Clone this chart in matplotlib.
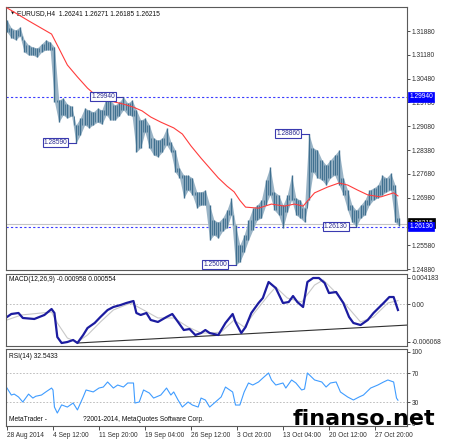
import numpy as np
import matplotlib
matplotlib.use('Agg')
import matplotlib.pyplot as plt
import matplotlib.transforms as mtransforms

# ---------------- data ----------------
symbol_title = "EURUSD,H4  1.26241 1.26271 1.26185 1.26215"
macd_title = "MACD(12,26,9) -0.000958 0.000554"
rsi_title = "RSI(14) 32.5433"
footer_left = "MetaTrader -"
footer_right = "?2001-2014, MetaQuotes Software Corp."
watermark = "finanso.net"

bar_step = 3  # one sample every 3 H4 bars
highs = [1.3220, 1.3197, 1.3191, 1.3200, 1.3162, 1.3147, 1.3141, 1.3138, 1.3150, 1.3162,
         1.3156, 1.3141, 1.2985, 1.2991, 1.2973, 1.2967, 1.2912, 1.2932, 1.2961, 1.2956,
         1.2950, 1.2961, 1.2956, 1.2991, 1.2985, 1.2970, 1.2979, 1.2994, 1.2976, 1.2985,
         1.2956, 1.2926, 1.2932, 1.2912, 1.2873, 1.2867, 1.2873, 1.2902, 1.2862, 1.2838,
         1.2785, 1.2764, 1.2764, 1.2756, 1.2715, 1.2715, 1.2720, 1.2676, 1.2632, 1.2626,
         1.2638, 1.2661, 1.2697, 1.2617, 1.2559, 1.2588, 1.2632, 1.2667, 1.2676, 1.2691,
         1.2750, 1.2788, 1.2715, 1.2706, 1.2676, 1.2706, 1.2764, 1.2697, 1.2691, 1.2667,
         1.2886, 1.2844, 1.2838, 1.2809, 1.2794, 1.2809, 1.2823, 1.2838, 1.2756, 1.2720,
         1.2676, 1.2661, 1.2676, 1.2691, 1.2720, 1.2726, 1.2735, 1.2764, 1.2756, 1.2770,
         1.2735, 1.2638]
lows = [1.3185, 1.3168, 1.3162, 1.3173, 1.3126, 1.3117, 1.3117, 1.3111, 1.3126, 1.3132,
        1.3132, 1.2980, 1.2920, 1.2941, 1.2932, 1.2938, 1.2859, 1.2882, 1.2912, 1.2903,
        1.2912, 1.2920, 1.2914, 1.2941, 1.2926, 1.2926, 1.2938, 1.2956, 1.2941, 1.2938,
        1.2832, 1.2844, 1.2891, 1.2844, 1.2823, 1.2818, 1.2832, 1.2853, 1.2832, 1.2773,
        1.2756, 1.2697, 1.2720, 1.2706, 1.2668, 1.2676, 1.2676, 1.2573, 1.2588, 1.2579,
        1.2600, 1.2609, 1.2647, 1.2500, 1.2509, 1.2538, 1.2573, 1.2603, 1.2632, 1.2638,
        1.2676, 1.2706, 1.2661, 1.2647, 1.2609, 1.2656, 1.2691, 1.2647, 1.2638, 1.2626,
        1.2691, 1.2773, 1.2756, 1.2750, 1.2735, 1.2756, 1.2764, 1.2735, 1.2706, 1.2661,
        1.2626, 1.2613, 1.2638, 1.2647, 1.2676, 1.2691, 1.2697, 1.2706, 1.2715, 1.2720,
        1.2626, 1.2614]

ma_bars = [0, 15, 31, 36, 42, 49, 56, 63, 72, 81, 88, 94, 100, 107, 116, 122, 128, 135,
           141, 147, 153, 158, 162, 166, 175, 184, 193, 200, 206, 214, 223, 231, 237, 244,
           251, 260, 269, 272]
ma_vals = [1.3256, 1.3218, 1.3179, 1.3138, 1.3088, 1.3053, 1.3020, 1.2994, 1.2982, 1.2973,
           1.2964, 1.2953, 1.2935, 1.2920, 1.2903, 1.2885, 1.2850, 1.2814, 1.2785, 1.2756,
           1.2732, 1.2715, 1.2690, 1.2670, 1.2667, 1.2679, 1.2673, 1.2679, 1.2673, 1.2712,
           1.2729, 1.2741, 1.2735, 1.2720, 1.2706, 1.2700, 1.2712, 1.2703]

price_ticks = [1.31880, 1.31180, 1.30480, 1.29780, 1.29080, 1.28380, 1.27680, 1.26980,
               1.26280, 1.25580, 1.24880]
level_lines = [1.2994, 1.2613]
level_labels = ["1.29940", "1.26130"]
last_price = 1.26215
last_price_label = "1.26215"

ext_labels = ["1.29940", "1.28590", "1.25000", "1.28860", "1.26130"]
ext_bars = [81, 48, 159, 210, 243]
ext_vals = [1.2994, 1.2859, 1.2500, 1.2886, 1.2613]

macd_bars = [0, 3, 8, 11, 19, 26, 31, 33, 35, 38, 42, 46, 49, 53, 56, 61, 65, 70, 74, 79,
             83, 88, 90, 93, 97, 100, 105, 111, 115, 119, 123, 127, 131, 135, 138, 141, 147,
             152, 157, 159, 163, 166, 170, 175, 178, 182, 187, 192, 196, 199, 202, 206, 209,
             213, 217, 221, 224, 229, 234, 238, 241, 246, 251, 255, 262, 266, 269, 272]
macd_vals = [-0.00208, -0.00160, -0.00144, -0.00224, -0.00240, -0.00176, -0.00080, -0.00144,
             -0.00529, -0.00625, -0.00609, -0.00577, -0.00625, -0.00497, -0.00385, -0.00304,
             -0.00208, -0.00096, -0.00048, -0.00016, 0.00016, 0.00048, -0.00144, -0.00176,
             -0.00144, -0.00256, -0.00288, -0.00208, -0.00160, -0.00288, -0.00417, -0.00401,
             -0.00497, -0.00465, -0.00417, -0.00465, -0.00497, -0.00304, -0.00160, -0.00288,
             -0.00465, -0.00369, -0.00144, 0.00016, 0.00096, 0.00353, 0.00256, 0.00016,
             0.00032, 0.00128, 0.00032, -0.00048, 0.00353, 0.00417, 0.00417, 0.00337,
             0.00176, 0.00192, 0.00016, -0.00208, -0.00304, -0.00337, -0.00256, -0.00144,
             0.00016, 0.00112, 0.00112, -0.00096]

signal_bars = [0, 10, 31, 35, 42, 49, 56, 65, 74, 86, 95, 105, 116, 126, 135, 142, 149, 158,
               165, 172, 182, 187, 195, 205, 214, 220, 227, 237, 246, 255, 265, 272]
signal_vals = [-0.00256, -0.00176, -0.00128, -0.00304, -0.00545, -0.00609, -0.00497,
               -0.00288, -0.00096, 0.00016, -0.00096, -0.00224, -0.00224, -0.00369, -0.00465,
               -0.00465, -0.00449, -0.00256, -0.00369, -0.00144, 0.00144, 0.00272, 0.00096,
               0.00032, 0.00304, 0.00385, 0.00224, -0.00048, -0.00288, -0.00208, 0.00016,
               0.00055]

trend_bars = [49, 279]
trend_vals = [-0.00625, -0.00337]
macd_ticks = [0.004183, 0.0, -0.006068]
macd_tick_labels = ["0.004183", "0.00", "-0.006068"]

rsi_bars = [0, 3, 5, 8, 11, 13, 15, 18, 20, 24, 27, 31, 32, 33, 35, 38, 42, 46, 49, 53, 55,
            60, 64, 67, 70, 74, 77, 81, 84, 88, 89, 92, 95, 99, 102, 107, 111, 114, 116, 119,
            122, 126, 129, 133, 135, 138, 141, 145, 149, 152, 157, 159, 162, 165, 168, 171,
            175, 178, 182, 184, 187, 192, 194, 198, 201, 205, 207, 209, 214, 219, 222, 225,
            229, 232, 237, 241, 245, 248, 253, 258, 262, 265, 269, 271, 272]
rsi_vals = [49.4, 39.7, 41.0, 37.0, 30.0, 35.5, 41.0, 35.5, 38.0, 39.7, 44.0, 49.4, 46.7,
            23.0, 14.7, 26.0, 23.0, 28.6, 19.0, 37.0, 46.7, 44.0, 49.4, 50.8, 57.8, 49.4,
            53.6, 50.8, 56.4, 56.4, 28.6, 30.0, 46.7, 42.5, 35.5, 39.7, 49.4, 39.7, 44.0,
            32.8, 23.0, 30.0, 25.8, 23.0, 35.5, 32.8, 23.0, 30.0, 37.0, 50.8, 43.9, 25.8,
            25.8, 43.9, 56.4, 53.6, 57.8, 63.3, 70.3, 60.6, 53.6, 56.4, 49.4, 60.6, 56.4,
            46.7, 48.0, 70.3, 60.6, 57.8, 50.8, 56.4, 57.8, 43.9, 37.0, 32.8, 37.0, 39.7,
            49.4, 53.6, 57.8, 60.6, 57.8, 35.5, 32.5]
rsi_ticks = [100, 70, 30, 0]
rsi_levels = [70, 30]

date_bars = [0, 32, 64, 96, 128, 160, 192, 224, 256]
date_labels = ["28 Aug 2014", "4 Sep 12:00", "11 Sep 20:00", "19 Sep 04:00", "26 Sep 12:00",
               "3 Oct 20:00", "13 Oct 04:00", "20 Oct 12:00", "27 Oct 20:00"]

# ---------------- style ----------------
plt.rcParams['font.family'] = ['Liberation Sans', 'DejaVu Sans']
FS = 4.8
BAR_C = '#3f6f8f'
BAND_C = '#9ab4c6'
SPINE_C = '#5a5a5a'
LBL_C = '#2a2a90'
BOX_EC = '#3a3ab0'

W, H = 450, 445
fig = plt.figure(figsize=(W / 100, H / 100), dpi=100)
fig.patch.set_facecolor('white')
L, R = 6, 407
ax1 = fig.add_axes([L / W, 1 - 270 / H, (R - L) / W, 263 / H])
ax2 = fig.add_axes([L / W, 1 - 346 / H, (R - L) / W, 72 / H])
ax3 = fig.add_axes([L / W, 1 - 426 / H, (R - L) / W, 77 / H])

for ax in (ax1, ax2, ax3):
    ax.set_xlim(-0.7, 278.3)
    for s in ax.spines.values():
        s.set_color(SPINE_C)
        s.set_linewidth(0.8)
    ax.yaxis.tick_right()
    ax.tick_params(axis='y', labelsize=FS, length=2, width=0.6, colors='#303030', pad=1.5)
    ax.set_facecolor('white')

# ---- main price panel ----
xs = np.arange(len(highs)) * bar_step
ax1.fill_between(xs, lows, highs, color=BAND_C, lw=0, zorder=2.5)
ax1.vlines(xs, lows, highs, color=BAR_C, lw=1.0, zorder=3)
ax1.vlines(xs[:-1] + 1.5, [max(a, b) for a, b in zip(lows[:-1], lows[1:])],
           [min(a, b) for a, b in zip(highs[:-1], highs[1:])],
           color=BAR_C, lw=0.6, zorder=3)
ax1.plot(ma_bars, ma_vals, color='#ff3c3c', lw=0.8, zorder=4)
for v in level_lines:
    ax1.axhline(v, color='#3c3cff', lw=0.8, ls=(0, (2, 2)), zorder=2)
ax1.axhline(last_price, color='#c4c4c4', lw=0.8, zorder=1)
ax1.set_ylim(1.24851, 1.32586)
ax1.set_yticks(price_ticks)
ax1.set_yticklabels([f"{v:.5f}" for v in price_ticks])
ax1.set_xticks([])

for lab, b, v in zip(ext_labels, ext_bars, ext_vals):
    ax1.plot([b - 6, b], [v, v], color=BOX_EC, lw=0.8, zorder=5)
    ax1.text(b - 6, v, lab, ha='right', va='center', fontsize=FS, color=LBL_C, zorder=6,
             bbox=dict(boxstyle='square,pad=0.15', fc='white', ec=BOX_EC, lw=0.8))

ax1.text(0.027, 0.977, symbol_title, transform=ax1.transAxes, fontsize=FS,
         color='#101010', ha='left', va='center')
ax1.text(0.012, 0.977, '\u25BC', transform=ax1.transAxes, fontsize=3.2,
         family='DejaVu Sans', color='#101010', ha='left', va='center')

trans = mtransforms.blended_transform_factory(ax1.transAxes, ax1.transData)
ax1.text(1.006, last_price + 0.0001, last_price_label, transform=trans, fontsize=FS,
         color='white', ha='left', va='center', clip_on=False, zorder=10,
         bbox=dict(boxstyle='square,pad=0.2', fc='black', ec='black', lw=0.5))
for v, lab in zip(level_lines, level_labels):
    ax1.text(1.006, v, lab, transform=trans, fontsize=FS, color='white', ha='left',
             va='center', clip_on=False, zorder=11,
             bbox=dict(boxstyle='square,pad=0.2', fc='#0000ff', ec='#0000ff', lw=0.5))

# ---- MACD panel ----
ax2.axhline(0, color='#b4b4b4', lw=0.6, ls=(0, (2, 2)))
ax2.plot(signal_bars, signal_vals, color='#c8c8c8', lw=0.8)
ax2.plot(trend_bars, trend_vals, color='#303030', lw=0.8)
ax2.plot(macd_bars, macd_vals, color='#1c1ca0', lw=1.6)
ax2.set_ylim(-0.00673, 0.00481)
ax2.set_yticks(macd_ticks)
ax2.set_yticklabels(macd_tick_labels)
ax2.set_xticks([])
ax2.text(0.0075, 0.917, macd_title, transform=ax2.transAxes, fontsize=FS,
         color='#101010', ha='left', va='center')

# ---- RSI panel ----
for lv in rsi_levels:
    ax3.axhline(lv, color='#b4b4b4', lw=0.6, ls=(0, (2, 2)))
ax3.plot(rsi_bars, rsi_vals, color='#3f9cff', lw=0.8)
ax3.set_ylim(-3.3, 103.6)
ax3.set_yticks(rsi_ticks)
ax3.set_yticklabels([str(v) for v in rsi_ticks])
ax3.set_xticks(date_bars)
ax3.set_xticklabels(date_labels)
ax3.tick_params(axis='x', labelsize=FS, length=3, width=0.6, colors='#303030', pad=1.5)
for t in ax3.get_xticklabels():
    t.set_ha('left')
ax3.text(0.0075, 0.909, rsi_title, transform=ax3.transAxes, fontsize=FS,
         color='#101010', ha='left', va='center')
ax3.text(0.0075, 0.078, footer_left, transform=ax3.transAxes, fontsize=FS,
         color='#101010', ha='left', va='center')
ax3.text(0.192, 0.078, footer_right, transform=ax3.transAxes, fontsize=FS,
         color='#101010', ha='left', va='center')

fig.text(293 / W, 1 - 425 / H, watermark, fontsize=16, fontweight='bold',
         family='DejaVu Sans', color='black', ha='left', va='baseline', zorder=20)

fig.savefig('out.png', dpi=100, facecolor='white')
